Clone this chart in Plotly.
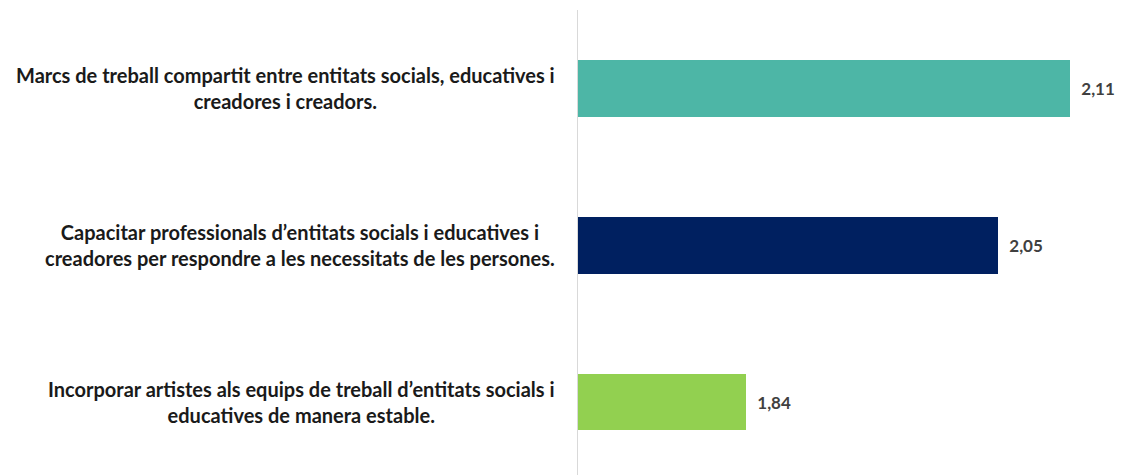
import plotly.graph_objects as go

categories = [
    "Marcs de treball compartit entre entitats socials, educatives i<br>creadores i creadors.",
    "Capacitar professionals d’entitats socials i educatives i<br>creadores per respondre a les necessitats de les persones.",
    "Incorporar artistes als equips de treball d’entitats socials i<br>educatives de manera estable.",
]
values = [2.11, 2.05, 1.84]
colors = ["#4DB6A6", "#002060", "#92D050"]

# page body has an 8px default margin
W, H = 1115, 467
ML, MR, MT, MB = 570, 0, 2, 0

fig = go.Figure()
fig.add_trace(go.Bar(
    x=values,
    y=list(range(len(categories))),
    orientation="h",
    width=0.357,
    marker=dict(color=colors, line=dict(width=0)),
    texttemplate="\u00a0\u00a0%{x:.2f}",
    textposition="outside",
    constraintext="none",
    textfont=dict(family="Lato", size=17, color="#404040", weight="bold"),
    cliponaxis=False,
    hoverinfo="skip",
))

for i, c in enumerate(categories):
    fig.add_annotation(
        x=(549 - ML) / (W - ML - MR), xref="paper",
        y=i, yref="y",
        text=c, showarrow=False,
        xanchor="right", yanchor="middle", align="center",
        font=dict(family="Lato", size=20, color="#1a1a1a", weight="bold"),
    )

fig.update_layout(
    width=W, height=H,
    margin=dict(l=ML, r=MR, t=MT, b=MB, pad=0),
    paper_bgcolor="white", plot_bgcolor="white",
    separators=",.",
    showlegend=False,
    bargap=0,
    xaxis=dict(range=[1.7, 1.7 + (W - ML - MR) / 1200], visible=False, showgrid=False, zeroline=False),
    yaxis=dict(range=[2.462, -0.5], showticklabels=False, showgrid=False, zeroline=False,
               showline=True, linecolor="#D9D9D9", linewidth=1, ticks=""),
)

fig.write_html("out.html")
